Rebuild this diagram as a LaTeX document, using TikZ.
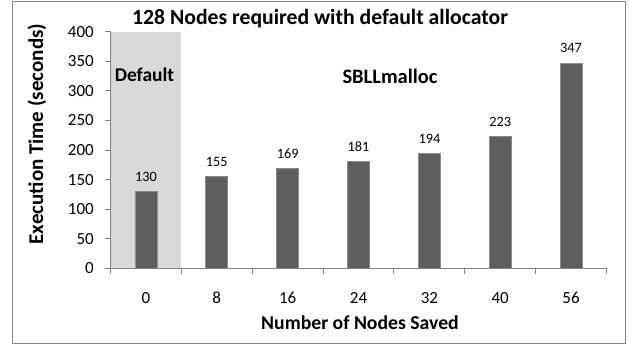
\documentclass[tikz,border=0pt]{standalone}
\usepackage{fontspec}
\setmainfont{Carlito}
\begin{document}
\begin{tikzpicture}[x=1pt,y=1pt,
  frame/.style={draw=black!47,line width=1pt},
  axisline/.style={draw=black!50,line width=1pt},
  bar/.style={fill=black!63,draw=black!45,line width=0.6pt},
  shade/.style={fill=black!15},
  ticklab/.style={font=\fontsize{17}{17}\selectfont,inner sep=0pt},
  vallab/.style={font=\fontsize{14.3}{14.3}\selectfont,inner sep=0pt},
  boldlab/.style={font=\bfseries\fontsize{19.7}{19.7}\selectfont,inner sep=0pt}]
\useasboundingbox (0,0) rectangle (629,346);
\def\yz{77.6}
\def\ys{0.59175}
\def\xz{110.5}
\def\cw{70.86}
% frame
\draw[frame] (12.7,2.7) rectangle (625,344.3);
% shaded default region
\fill[shade] (\xz+0.5,\yz) rectangle (\xz+\cw,\yz+400*\ys);
% y ticks and labels
\foreach \v in {0,50,...,400}{
  \draw[axisline] (\xz-5.5,\yz+\v*\ys) -- (\xz,\yz+\v*\ys);
  \node[ticklab,anchor=east] (yl\v) at (94,\yz+\v*\ys) {\v};
}
% bars
\foreach \i/\lab/\val in {0/0/130,1/8/155,2/16/169,3/24/181,4/32/194,5/40/223,6/56/347}{
  \draw[bar] (\xz+\cw*\i+\cw/2-11,\yz) rectangle (\xz+\cw*\i+\cw/2+11,\yz+\val*\ys);
  \node[vallab] (v\i) at (\xz+\cw*\i+\cw/2,\yz+\val*\ys+15) {\val};
  \node[ticklab] (x\i) at (\xz+\cw*\i+\cw/2,48.3) {\lab};
}
% axes
\draw[axisline] (\xz,\yz) -- (\xz,\yz+400*\ys);
\draw[axisline] (\xz,\yz) -- (\xz+7*\cw,\yz);
\foreach \k in {0,...,7}{
  \draw[axisline] (\xz+\cw*\k,\yz) -- (\xz+\cw*\k,\yz-5.5);
}
% texts
\node[boldlab,font=\bfseries\fontsize{21.7}{21.7}\selectfont] (title) at (320,327) {128 Nodes required with default allocator};
\node[boldlab,font=\bfseries\fontsize{19.5}{19.5}\selectfont] (def) at (144.5,271.5) {Default};
\node[boldlab,font=\bfseries\fontsize{20.5}{20.5}\selectfont] (sbll) at (390,270) {SBLLmalloc};
\node[boldlab,font=\bfseries\fontsize{21}{21}\selectfont,rotate=90] (ytitle) at (37,212) {Execution Time (seconds)};
\node[boldlab] (xtitle) at (360,23) {Number of Nodes Saved};
\end{tikzpicture}
\end{document}
